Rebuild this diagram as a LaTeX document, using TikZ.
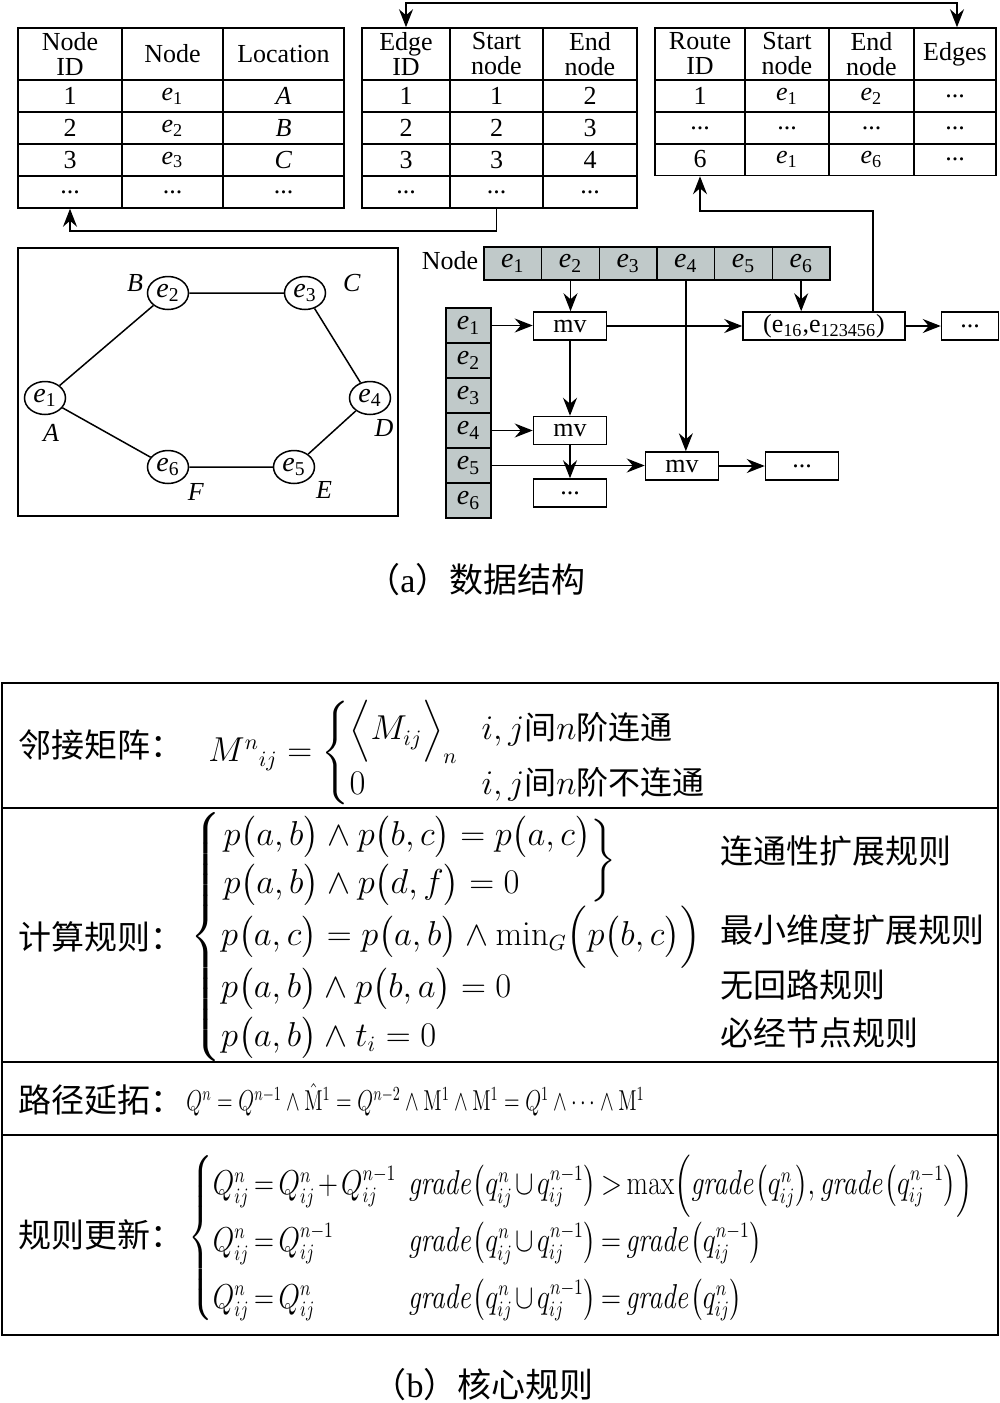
\documentclass[tikz,border=0pt]{standalone}
\usepackage{amsmath}
\usepackage[no-math]{fontspec}
\setmainfont{Liberation Serif}
\newfontfamily\cjk{Noto Sans CJK SC}
\usetikzlibrary{shapes.geometric, arrows.meta, calc}

\definecolor{cellgrey}{RGB}{192,201,201}
\newcommand{\tabfont}{\fontsize{13}{12.5}\selectfont}
\newcommand{\eqfont}{\fontsize{16}{19}\selectfont}
\newcommand{\hzfont}{\fontsize{16.5}{19}\selectfont\cjk}
\newcommand{\bpar}[1]{\bigl(#1\bigr)}
\newcommand{\ddd}{...}
\newcommand{\ee}[1]{\textit{e}\textsubscript{#1}}

\tikzset{
    cell/.style={draw, line width=0.75pt, inner sep=0pt, minimum height=16pt, align=center, font=\tabfont},
    head/.style={cell, minimum height=26pt},
    gcell/.style={cell, fill=cellgrey, font=\fontsize{14}{14}\selectfont},
    wbox/.style={cell, minimum height=14pt, minimum width=36.5pt},
    enode/.style={draw, ellipse, line width=0.75pt, inner sep=0pt, minimum width=20.5pt, minimum height=16.5pt, font=\fontsize{14}{14}\selectfont},
    plain/.style={inner sep=0pt, font=\tabfont},
    link/.style={line width=0.75pt, -{Stealth[length=9pt, width=7pt, inset=3pt]}}
}

\begin{document}
\begin{tikzpicture}[x=0.5pt, y=-0.5pt]
    \useasboundingbox (0,0) rectangle (1000,1403);

    % node table
    \node[head, minimum width=52pt] (t1h1) at (70,54) {Node\\ID};
    \node[head, minimum width=50.5pt] (t1h2) at (172.5,54) {Node};
    \node[head, minimum width=60.5pt] (t1h3) at (283.5,54) {Location};
    \foreach \r/\y/\loc in {1/96/A, 2/128/B, 3/160/C}{
        \node[cell, minimum width=52pt] (t1r\r c1) at (70,\y) {\r};
        \node[cell, minimum width=50.5pt] (t1r\r c2) at (172.5,\y) {\ee{\r}};
        \node[cell, minimum width=60.5pt] (t1r\r c3) at (283.5,\y) {\textit{\loc}};
    }
    \node[cell, minimum width=52pt] (t1d1) at (70,192) {\ddd};
    \node[cell, minimum width=50.5pt] (t1d2) at (172.5,192) {\ddd};
    \node[cell, minimum width=60.5pt] (t1d3) at (283.5,192) {\ddd};

    % edge table
    \node[head, minimum width=44pt] (t2h1) at (406,54) {Edge\\ID};
    \node[head, minimum width=46.5pt] (t2h2) at (496.5,54) {Start\\node};
    \node[head, minimum width=47pt] (t2h3) at (590,54) {End\\node};
    \foreach \r/\y/\e in {1/96/2, 2/128/3, 3/160/4}{
        \node[cell, minimum width=44pt] (t2r\r c1) at (406,\y) {\r};
        \node[cell, minimum width=46.5pt] (t2r\r c2) at (496.5,\y) {\r};
        \node[cell, minimum width=47pt] (t2r\r c3) at (590,\y) {\e};
    }
    \node[cell, minimum width=44pt] (t2d1) at (406,192) {\ddd};
    \node[cell, minimum width=46.5pt] (t2d2) at (496.5,192) {\ddd};
    \node[cell, minimum width=47pt] (t2d3) at (590,192) {\ddd};

    % route table
    \node[head, minimum width=45pt] (t3h1) at (700,54) {Route\\ID};
    \node[head, minimum width=42pt] (t3h2) at (787,54) {Start\\node};
    \node[head, minimum width=42.5pt] (t3h3) at (871.5,54) {End\\node};
    \node[head, minimum width=41pt] (t3h4) at (955,54) {Edges};
    \foreach \r/\y/\a/\b/\c in {1/96/1/\ee{1}/\ee{2}, 2/128/\ddd/\ddd/\ddd, 3/159.5/6/\ee{1}/\ee{6}}{
        \node[cell, minimum width=45pt] (t3r\r c1) at (700,\y) {\a};
        \node[cell, minimum width=42pt] (t3r\r c2) at (787,\y) {\b};
        \node[cell, minimum width=42.5pt] (t3r\r c3) at (871.5,\y) {\c};
        \node[cell, minimum width=41pt] (t3r\r c4) at (955,\y) {\ddd};
    }

    % links between tables
    \coordinate (topl) at (406,3);
    \coordinate (topr) at (957,3);
    \draw[link, {Stealth[length=9pt, width=7pt, inset=3pt]}-{Stealth[length=9pt, width=7pt, inset=3pt]}]
        (topl |- t2h1.north) -- (topl) -- (topr) -- (topr |- t3h4.north);
    \draw[link] (t2d2.south) -- ++(0,22) -| (t1d1.south);
    \coordinate (rbend) at (873,211);

    % graph
    \draw[line width=0.9pt] (18,248) rectangle (398,516);
    \node[enode] (v1) at (45,398) {\ee{1}};
    \node[enode] (v2) at (168,293) {\ee{2}};
    \node[enode] (v3) at (305,293) {\ee{3}};
    \node[enode] (v4) at (370,398) {\ee{4}};
    \node[enode] (v5) at (294,467) {\ee{5}};
    \node[enode] (v6) at (168,467) {\ee{6}};
    \draw[line width=0.75pt] (v1) -- (v2) -- (v3) -- (v4) -- (v5) -- (v6) -- (v1);
    \node[plain] (lA) at (51,433) {\textit{A}};
    \node[plain] (lB) at (135,283) {\textit{B}};
    \node[plain] (lC) at (352,283) {\textit{C}};
    \node[plain] (lD) at (384,428) {\textit{D}};
    \node[plain] (lE) at (324,490) {\textit{E}};
    \node[plain] (lF) at (196,492) {\textit{F}};

    % linked list
    \node[plain] (nodelab) at (450,261) {Node};
    \foreach \i in {1,...,6}{
        \node[gcell, minimum width=28.8pt, minimum height=16.5pt] (top\i) at ({484+57.67*(\i-0.5)},263.5) {\ee{\i}};
        \node[gcell, minimum width=22.5pt, minimum height=17.5pt] (lft\i) at (468.5,{308+35*(\i-0.5)}) {\ee{\i}};
    }
    \node[wbox] (mv1) at (570,326) {mv};
    \node[wbox] (mv2) at (570,430.5) {mv};
    \node[wbox] (dots1) at (570,493) {\ddd};
    \node[wbox] (mv3) at (682,466) {mv};
    \node[wbox] (dots2) at (802,466) {\ddd};
    \node[wbox, minimum width=81pt] (pair) at (824,326) {(e\textsubscript{16},e\textsubscript{123456})};
    \node[wbox, minimum width=28.5pt] (dots3) at (970,326) {\ddd};

    \draw[link] (top2.south) -- (top2.south |- mv1.north);
    \draw[link] (top6.south) -- (top6.south |- pair.north);
    \draw[link] (top4.south) -- (top4.south |- mv3.north);
    \draw[link] (lft1.east) -- (lft1.east -| mv1.west);
    \draw[link] (mv1) -- (pair);
    \draw[link] (pair) -- (dots3);
    \draw[link] (mv1) -- (mv2);
    \draw[link] (lft4.east) -- (lft4.east -| mv2.west);
    \draw[link] (mv2) -- (dots1);
    \draw[link] (lft5.east) -- (lft5.east -| mv3.west);
    \draw[link] (mv3) -- (dots2);
    \draw[link] (pair.north -| rbend) -- (rbend) -| (t3r3c1.south);

    \node[font=\fontsize{17}{20}\selectfont] (capa) at (476,580) {{\cjk （}a{\cjk ）数据结构}};

    % core rules
    \draw[line width=1.1pt] (2,683) rectangle (998,1335);
    \foreach \y in {808,1062,1135}
        \draw[line width=1.1pt] (2,\y) -- (998,\y);

    \node[anchor=west, inner sep=0pt, font=\hzfont] (adjlab) at (18,745) {邻接矩阵：};
    \node[anchor=west, inner sep=0pt, font=\eqfont] (adjeq) at (208,753)
        {$M^{n}{}_{ij}=\left\{\begin{array}{@{}l@{}l@{}}
        \makebox[66pt][l]{$\Bigl\langle M_{ij}\Bigr\rangle_{n}$} & i,j\text{\cjk 间}n\text{\cjk 阶连通}\\[8pt]
        0 & i,j\text{\cjk 间}n\text{\cjk 阶不连通}
        \end{array}\right.$};

    \node[anchor=west, inner sep=0pt, font=\hzfont] (calclab) at (18,937) {计算规则：};
    \node[anchor=west, inner sep=0pt, font=\eqfont] (calceq) at (190,937)
        {$\left\{\begin{array}{@{}l@{}}
        \left.\begin{array}{@{}l@{}}
        p\bpar{a,b}\wedge p\bpar{b,c}=p\bpar{a,c}\\[4pt]
        p\bpar{a,b}\wedge p\bpar{d,f}=0
        \end{array}\right\}\\[4pt]
        p\bpar{a,c}=p\bpar{a,b}\wedge\min\nolimits_{G}\Bigl(p\bpar{b,c}\Bigr)\\[4pt]
        p\bpar{a,b}\wedge p\bpar{b,a}=0\\[4pt]
        p\bpar{a,b}\wedge t_{i}=0
        \end{array}\right.$};
    \node[anchor=west, inner sep=0pt, font=\hzfont] (rule1) at (720,851) {连通性扩展规则};
    \node[anchor=west, inner sep=0pt, font=\hzfont] (rule2) at (720,930) {最小维度扩展规则};
    \node[anchor=west, inner sep=0pt, font=\hzfont] (rule3) at (720,985) {无回路规则};
    \node[anchor=west, inner sep=0pt, font=\hzfont] (rule4) at (720,1033) {必经节点规则};

    \node[anchor=west, inner sep=0pt, font=\hzfont] (extlab) at (18,1100) {路径延拓：};
    \node[anchor=west, inner sep=0pt, font=\fontsize{14}{16}\selectfont] (exteq) at (186,1100)
        {\scalebox{0.71}[1]{$Q^{n}=Q^{n-1}\wedge\hat{\mathrm{M}}^{1}=Q^{n-2}\wedge\mathrm{M}^{1}\wedge\mathrm{M}^{1}=Q^{1}\wedge\cdots\wedge\mathrm{M}^{1}$}};

    \node[anchor=west, inner sep=0pt, font=\hzfont] (updlab) at (18,1235) {规则更新：};
    \node[anchor=west, inner sep=0pt, font=\eqfont] (updeq) at (188,1238)
        {\scalebox{0.80}[1]{\thickmuskip=3mu \medmuskip=2mu $\left\{\begin{array}{@{}l@{}l@{}}
        \makebox[122pt][l]{$Q_{ij}^{n}=Q_{ij}^{n}+Q_{ij}^{n-1}$} &
        \mathit{grade}\bigl(q_{ij}^{n}\cup q_{ij}^{n-1}\bigr)>\max\Bigl(\mathit{grade}\bigl(q_{ij}^{n}\bigr),\mathit{grade}\bigl(q_{ij}^{n-1}\bigr)\Bigr)\\[8pt]
        Q_{ij}^{n}=Q_{ij}^{n-1} & \mathit{grade}\bigl(q_{ij}^{n}\cup q_{ij}^{n-1}\bigr)=\mathit{grade}\bigl(q_{ij}^{n-1}\bigr)\\[8pt]
        Q_{ij}^{n}=Q_{ij}^{n} & \mathit{grade}\bigl(q_{ij}^{n}\cup q_{ij}^{n-1}\bigr)=\mathit{grade}\bigl(q_{ij}^{n}\bigr)
        \end{array}\right.$}};

    \node[font=\fontsize{17}{20}\selectfont] (capb) at (483,1385) {{\cjk （}b{\cjk ）核心规则}};
\end{tikzpicture}
\end{document}
